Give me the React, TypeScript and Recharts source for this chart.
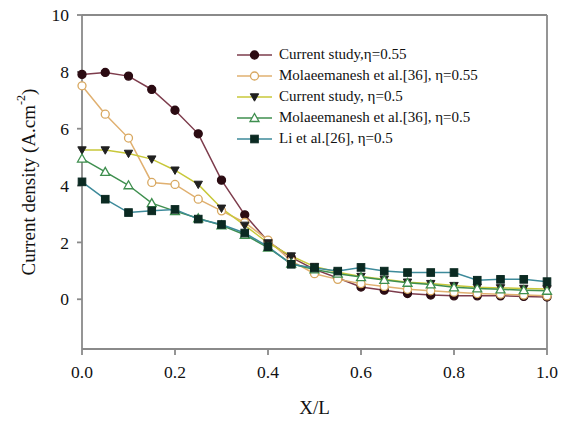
import React from "react";
import { LineChart, Line, XAxis, YAxis, ReferenceLine } from "recharts";

const xPos = [0, 0.05, 0.1, 0.15, 0.2, 0.25, 0.3, 0.35, 0.4, 0.45, 0.5, 0.55, 0.6, 0.65, 0.7, 0.75, 0.8, 0.85, 0.9, 0.95, 1.0];

const current055 = [7.91, 7.98, 7.85, 7.38, 6.65, 5.82, 4.19, 2.97, 2.04, 1.47, 1.05, 0.75, 0.43, 0.32, 0.2, 0.15, 0.12, 0.12, 0.12, 0.1, 0.08];
const molaee055 = [7.51, 6.51, 5.67, 4.11, 4.04, 3.52, 3.11, 2.7, 2.08, 1.35, 0.9, 0.7, 0.55, 0.45, 0.35, 0.3, 0.25, 0.2, 0.18, 0.15, 0.12];
const current05 = [5.25, 5.25, 5.13, 4.93, 4.54, 4.04, 3.2, 2.6, 1.98, 1.52, 1.15, 0.95, 0.8, 0.7, 0.6, 0.55, 0.48, 0.42, 0.4, 0.38, 0.36];
const molaee05 = [4.95, 4.48, 4.01, 3.38, 3.1, 2.85, 2.6, 2.27, 1.82, 1.25, 1.05, 0.9, 0.78, 0.68, 0.58, 0.52, 0.42, 0.38, 0.35, 0.32, 0.3];
const li05 = [4.13, 3.52, 3.05, 3.11, 3.16, 2.82, 2.63, 2.33, 1.85, 1.23, 1.1, 0.99, 1.12, 0.99, 0.94, 0.94, 0.94, 0.67, 0.7, 0.7, 0.62];

const xTicks = [0, 0.2, 0.4, 0.6, 0.8, 1.0];
const yTicks = [0, 2, 4, 6, 8, 10];

const data = xPos.map((x, i) => ({
  x,
  s1: current055[i],
  s2: molaee055[i],
  s3: current05[i],
  s4: molaee05[i],
  s5: li05[i],
}));

const series = [
  { key: "s1", name: "Current study,η=0.55", line: "#7d3c4c", marker: "circle", fill: "#2b0b12", stroke: "#2b0b12" },
  { key: "s2", name: "Molaeemanesh et al.[36], η=0.55", line: "#e0b070", marker: "circle", fill: "#fff", stroke: "#d8a860" },
  { key: "s3", name: "Current study, η=0.5", line: "#c8c83a", marker: "down", fill: "#202020", stroke: "#202020" },
  { key: "s4", name: "Molaeemanesh et al.[36], η=0.5", line: "#3f8f4f", marker: "up", fill: "#fff", stroke: "#3f8f4f" },
  { key: "s5", name: "Li et al.[26], η=0.5", line: "#3d8a9a", marker: "square", fill: "#0b2a22", stroke: "#0b2a22" },
];

const font = "Liberation Serif, serif";
const axisColor = "#8a8a8a";

function Marker({ cx, cy, kind, fill, stroke }: any) {
  if (cx == null || cy == null) return null;
  if (kind === "circle") return <circle cx={cx} cy={cy} r={4} fill={fill} stroke={stroke} strokeWidth={1.3} />;
  if (kind === "square") return <rect x={cx - 3.8} y={cy - 3.8} width={7.6} height={7.6} fill={fill} stroke={stroke} strokeWidth={1} />;
  if (kind === "down")
    return <path d={`M${cx - 4.2},${cy - 3.2} L${cx + 4.2},${cy - 3.2} L${cx},${cy + 4.2} Z`} fill={fill} stroke={stroke} strokeWidth={1} />;
  return <path d={`M${cx - 4.5},${cy + 3.5} L${cx + 4.5},${cy + 3.5} L${cx},${cy - 4.5} Z`} fill={fill} stroke={stroke} strokeWidth={1.3} />;
}

function LegendBox() {
  return (
    <div style={{ position: "absolute", left: 235, top: 44, fontFamily: font, fontSize: 15, color: "#111" }}>
      {series.map((s) => (
        <div key={s.key} style={{ display: "flex", alignItems: "center", height: 21 }}>
          <svg width={44} height={14} style={{ flex: "none" }}>
            <line x1={2} y1={7} x2={37} y2={7} stroke={s.line} strokeWidth={1.5} />
            <Marker cx={19.5} cy={7} kind={s.marker} fill={s.fill} stroke={s.stroke} />
          </svg>
          <span style={{ whiteSpace: "nowrap" }}>{s.name}</span>
        </div>
      ))}
    </div>
  );
}

function YLabel() {
  const cx = 28;
  const cy = 182;
  return (
    <text x={cx} y={cy} transform={`rotate(-90 ${cx} ${cy})`} textAnchor="middle" dominantBaseline="central" fontFamily={font} fontSize={19} fill="#111">
      Current density (A.cm
      <tspan dy={-7} fontSize={12}>-2</tspan>
      <tspan dy={7}>)</tspan>
    </text>
  );
}

export default function App() {
  return (
    <div style={{ position: "absolute", left: 0, top: 0, width: 565, height: 421, background: "#fff" }}>
      <LineChart width={565} height={421} data={data} margin={{ top: 15, right: 18, left: 22, bottom: 2 }}>
        <XAxis
          dataKey="x"
          type="number"
          domain={[0, 1]}
          ticks={xTicks}
          tickFormatter={(v: number) => v.toFixed(1)}
          stroke={axisColor}
          strokeWidth={1.8}
          tickSize={6}
          tickMargin={11}
          height={70}
          tick={{ fill: "#111", fontFamily: font, fontSize: 17.5 }}
          label={{ value: "X/L", position: "insideBottom", offset: 5, fill: "#111", fontFamily: font, fontSize: 19 }}
        />
        <YAxis
          type="number"
          domain={[-1.75, 10]}
          ticks={yTicks}
          stroke={axisColor}
          strokeWidth={1.8}
          tickSize={5}
          tickMargin={8}
          width={60}
          tick={{ fill: "#111", fontFamily: font, fontSize: 17.5 }}
          label={<YLabel />}
        />
        <ReferenceLine y={10} stroke={axisColor} strokeWidth={1.8} />
        <ReferenceLine x={1} stroke={axisColor} strokeWidth={1.8} />
        {series.map((s) => (
          <Line
            key={s.key}
            dataKey={s.key}
            name={s.name}
            type="linear"
            stroke={s.line}
            strokeWidth={1.5}
            isAnimationActive={false}
            dot={(p: any) => <Marker key={`${s.key}-${p.index}`} cx={p.cx} cy={p.cy} kind={s.marker} fill={s.fill} stroke={s.stroke} />}
            activeDot={false}
          />
        ))}
      </LineChart>
      <LegendBox />
    </div>
  );
}
